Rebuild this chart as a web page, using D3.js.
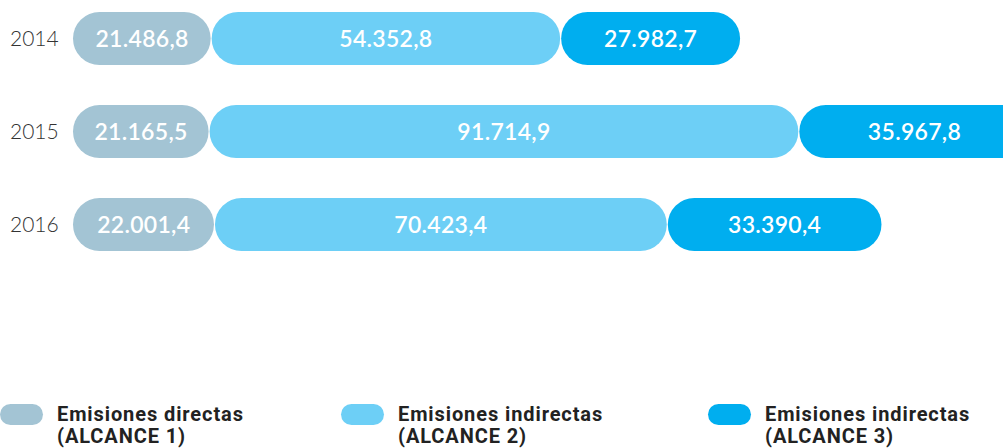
<!DOCTYPE html>
<html>
<head>
<meta charset="utf-8">
<script src="https://cdn.jsdelivr.net/npm/d3@7"></script>
<style>
  body { margin: 0; background: #fff; }
  svg { display: block; }
</style>
</head>
<body>
<div id="chart"></div>
<script>
var years = ["2014", "2015", "2016"];
var alcance1 = [21486.8, 21165.5, 22001.4];
var alcance2 = [54352.8, 91714.9, 70423.4];
var alcance3 = [27982.7, 35967.8, 33390.4];
var seriesNames = ["Emisiones directas|(ALCANCE 1)", "Emisiones indirectas|(ALCANCE 2)", "Emisiones indirectas|(ALCANCE 3)"];
var colors = ["#a3c4d4", "#6dcff6", "#00aeef"];

var width = 1003, height = 448;

var svg = d3.select("#chart").append("svg")
    .attr("width", width)
    .attr("height", height);

var rows = years.map(function(y, i) {
    return { year: y, values: [alcance1[i], alcance2[i], alcance3[i]] };
});

var x = d3.scaleLinear().domain([0, 150000]).range([73, 73 + 0.00643 * 150000]);
var y = d3.scaleBand().domain(years).range([12, 251]).paddingInner(0.43).paddingOuter(0);
var barH = y.bandwidth();

var fmt = function(v) {
    // formato español: 21.486,8
    var s = d3.format(",.1f")(v);
    return s.replace(/,/g, "#").replace(".", ",").replace(/#/g, ".");
};

var row = svg.selectAll("g.row").data(rows).enter().append("g")
    .attr("class", "row")
    .attr("transform", function(d) { return "translate(0," + y(d.year) + ")"; });

row.append("text")
    .attr("x", 10)
    .attr("y", barH / 2)
    .attr("dy", "0.35em")
    .attr("font-family", "Lato, sans-serif")
    .attr("font-size", 21)
    .attr("font-weight", 300)
    .attr("fill", "#333")
    .text(function(d) { return d.year; });

var seg = row.selectAll("g.seg").data(function(d) {
    var acc = 0;
    return d.values.map(function(v, k) {
        var s = { start: acc, end: acc + v, v: v, k: k };
        acc += v;
        return s;
    });
}).enter().append("g").attr("class", "seg");

seg.append("rect")
    .attr("x", function(d) { return x(d.start) + (d.k > 0 ? 0.5 : 0); })
    .attr("y", 0)
    .attr("width", function(d) { return x(d.end) - x(d.start) - (d.k > 0 ? 1 : 0.5); })
    .attr("height", barH)
    .attr("rx", barH / 2)
    .attr("fill", function(d) { return colors[d.k]; });

seg.append("text")
    .attr("x", function(d) { return (x(d.start) + x(d.end)) / 2; })
    .attr("y", barH / 2)
    .attr("dy", "0.36em")
    .attr("text-anchor", "middle")
    .attr("font-family", "Lato, sans-serif")
    .attr("font-size", 23)
    .attr("font-weight", 600)
    .attr("letter-spacing", 0.3)
    .attr("fill", "#fff")
    .text(function(d) { return fmt(d.v); });

// leyenda
var legX = [0, 341, 708];
var leg = svg.selectAll("g.leg").data(seriesNames).enter().append("g")
    .attr("class", "leg")
    .attr("transform", function(d, i) { return "translate(" + legX[i] + ",404)"; });

leg.append("rect")
    .attr("width", 43).attr("height", 21).attr("rx", 10.5)
    .attr("fill", function(d, i) { return colors[i]; });

leg.append("text")
    .attr("x", 57)
    .attr("y", 17)
    .attr("font-family", "Roboto, sans-serif")
    .attr("font-size", 20)
    .attr("font-weight", 700)
    .attr("letter-spacing", 0.9)
    .attr("fill", "#222")
    .selectAll("tspan").data(function(d) { return d.split("|"); }).enter().append("tspan")
    .attr("x", 57)
    .attr("dy", function(d, i) { return i ? 22 : 0; })
    .text(function(d) { return d; });
</script>
</body>
</html>
